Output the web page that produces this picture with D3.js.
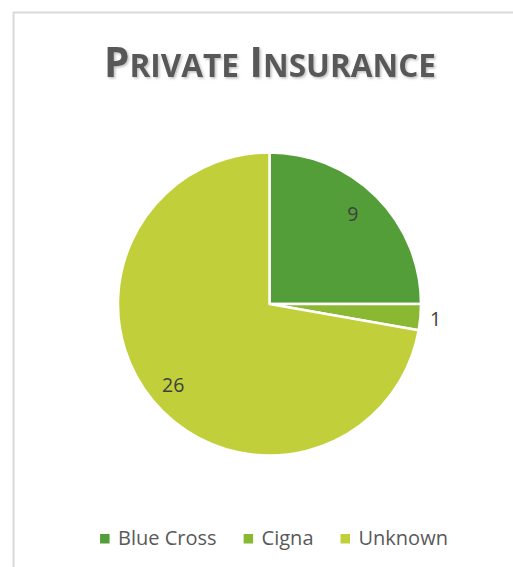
<!DOCTYPE html>
<html><head><meta charset="utf-8">
<script src="https://cdn.jsdelivr.net/npm/d3@7"></script>
<style>
html,body{margin:0;padding:0;background:#fff;}
svg{display:block;}
</style></head>
<body>
<script>
const categories = ["Blue Cross", "Cigna", "Unknown"];
const values = [9, 1, 26];
const colors = ["#549E39", "#8AB833", "#C0CF3A"];
const titleText = "Private Insurance";

const W = 513, H = 567;
const svg = d3.select("body").append("svg").attr("width", W).attr("height", H);

const defs = svg.append("defs");
const f = defs.append("filter").attr("id","sh").attr("x","-10%").attr("y","-20%").attr("width","120%").attr("height","150%");
f.append("feDropShadow").attr("dx",1.5).attr("dy",1.5).attr("stdDeviation",1.2).attr("flood-color","#000").attr("flood-opacity",0.25);

// chart border
svg.append("rect").attr("x",13.5).attr("y",12.5).attr("width",W+20).attr("height",H+20)
  .attr("fill","#fff").attr("stroke","#d9d9d9").attr("stroke-width",2);

// title in small caps
const title = svg.append("text").attr("x",270).attr("y",77).attr("text-anchor","middle")
  .attr("font-family","'Open Sans', sans-serif").attr("font-weight","bold").attr("fill","#595959")
  .attr("filter","url(#sh)");
function buildTitle(fs){
  title.selectAll("tspan").remove();
  titleText.split(" ").forEach((w,i)=>{
    title.append("tspan").attr("font-size",fs).text((i?" ":"")+w[0].toUpperCase());
    title.append("tspan").attr("font-size",fs*0.78).text(w.slice(1).toUpperCase());
  });
}
buildTitle(38);
const tw = title.node().getBBox().width;
buildTitle(38*332/tw);

// pie
const cx = 269.5, cy = 304, R = 151.5;
const g = svg.append("g").attr("transform",`translate(${cx},${cy})`);
const pie = d3.pie().sort(null).value(d=>d)(values);
const arc = d3.arc().innerRadius(0).outerRadius(R);
g.selectAll("path").data(pie).join("path")
  .attr("d",arc).attr("fill",(d,i)=>colors[i])
  .attr("stroke","#fff").attr("stroke-width",2.5).attr("stroke-linejoin","round");

const labelR = [0.81*R, 1.1*R, 0.83*R];
g.selectAll("text.lab").data(pie).join("text").attr("class","lab")
  .attr("transform",(d,i)=>{
    const a = (d.startAngle+d.endAngle)/2 - (i===0 ? 0.04 : 0);
    const r = labelR[i];
    return `translate(${Math.sin(a)*r},${-Math.cos(a)*r})`;
  })
  .attr("text-anchor","middle").attr("dy","0.36em")
  .attr("font-family","'Open Sans', sans-serif").attr("font-size",19.5).attr("fill","#404040")
  .text(d=>d.data);

// legend
const leg = svg.append("g");
const items = leg.selectAll("g").data(categories).join("g");
items.append("rect").attr("width",9.5).attr("height",9.5).attr("y",-11).attr("fill",(d,i)=>colors[i]);
items.append("text").attr("x",18).attr("font-family","'Open Sans', sans-serif").attr("font-size",20)
  .attr("fill","#595959").text(d=>d);
const gap = 27;
const widths = [];
items.each(function(){ widths.push(18 + d3.select(this).select("text").node().getComputedTextLength()); });
const total = d3.sum(widths) + gap*(widths.length-1);
let start = 274 - total/2;
items.attr("transform",(d,i)=>{ const t = `translate(${start},545)`; start += widths[i]+gap; return t; });
</script>
</body></html>
